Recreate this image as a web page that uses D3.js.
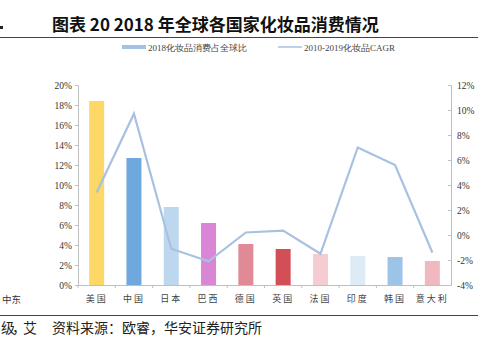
<!DOCTYPE html>
<html><head><meta charset="utf-8">
<script src="https://cdn.jsdelivr.net/npm/d3@7"></script>
<style>body{margin:0;background:#fff}svg{display:block}</style>
</head><body>
<svg id="c" width="493" height="343"></svg>
<script>
const categories = ["美国","中国","日本","巴西","德国","英国","法国","印度","韩国","意大利"];
const share2018 = [18.4, 12.7, 7.8, 6.2, 4.1, 3.6, 3.1, 2.9, 2.8, 2.4];
const cagr = [3.4, 9.7, -1.1, -2.1, 0.2, 0.35, -1.5, 7.0, 5.6, -1.4];
const barColors = ["#FDD867","#6FA8DC","#BDD7EE","#DA86D6","#DF8A94","#D34F58","#F4CCD2","#DDEBF7","#9DC3E6","#F0B8BF"];
const leftTicks = [0,2,4,6,8,10,12,14,16,18,20];
const rightTicks = [-4,-2,0,2,4,6,8,10,12];
const seriesNames = ["2018化妆品消费占全球比","2010-2019化妆品CAGR"];

const svg = d3.select("#c");
const L = 78, R = 451, T = 85, B = 285;
const x = d3.scaleBand().domain(categories).range([L, R]);
const yL = d3.scaleLinear().domain([0, 20]).range([B, T]);
const yR = d3.scaleLinear().domain([-4, 12]).range([B, T]);
const axisColor = "#BFBFBF";
const serif = "'Liberation Serif','DejaVu Serif',serif";
const cjk = "'Noto Sans CJK SC',sans-serif";

// title
svg.append("text").attr("x", 52).attr("y", 31).attr("font-family", cjk).attr("font-weight", "bold")
  .attr("font-size", 17).attr("fill", "#111").text("图表 20 2018 年全球各国家化妆品消费情况");
svg.append("rect").attr("x", 0).attr("y", 26).attr("width", 3).attr("height", 3).attr("fill", "#222");
svg.append("line").attr("x1", 0).attr("x2", 478).attr("y1", 37.5).attr("y2", 37.5).attr("stroke", "#444").attr("stroke-width", 1.2);

// legend
svg.append("rect").attr("x", 122).attr("y", 45).attr("width", 24).attr("height", 4).attr("fill", "#9DC3E6");
svg.append("text").attr("x", 148).attr("y", 50.5).attr("font-family", serif).attr("font-size", 9).attr("fill", "#444").text(seriesNames[0]);
svg.append("line").attr("x1", 278).attr("x2", 302).attr("y1", 47).attr("y2", 47).attr("stroke", "#A9C1E1").attr("stroke-width", 1.5);
svg.append("text").attr("x", 304).attr("y", 50.5).attr("font-family", serif).attr("font-size", 9).attr("fill", "#444").text(seriesNames[1]);

// left axis
const gl = svg.append("g").attr("transform", `translate(${L},0)`)
  .call(d3.axisLeft(yL).tickValues(leftTicks).tickFormat(d => d + "%").tickSize(3).tickPadding(3));
gl.select(".domain").attr("stroke", axisColor);
gl.selectAll(".tick line").attr("stroke", axisColor);
gl.selectAll("text").attr("font-family", serif).attr("font-size", 9.5).attr("fill", "#333");

// right axis
const gr = svg.append("g").attr("transform", `translate(${R},0)`)
  .call(d3.axisRight(yR).tickValues(rightTicks).tickFormat(d => d + "%").tickSize(-3).tickPadding(6));
gr.select(".domain").attr("stroke", axisColor);
gr.selectAll(".tick line").attr("stroke", axisColor);
gr.selectAll("text").attr("font-family", serif).attr("font-size", 9.5).attr("fill", "#333");

// bottom axis
svg.append("line").attr("x1", L).attr("x2", R).attr("y1", B + 0.5).attr("y2", B + 0.5).attr("stroke", axisColor);
svg.selectAll(".btick").data(categories).enter().append("line")
  .attr("x1", d => x(d)).attr("x2", d => x(d)).attr("y1", B).attr("y2", B + 3).attr("stroke", axisColor);
svg.selectAll(".clab").data(categories).enter().append("text")
  .attr("x", d => x(d) + x.bandwidth() / 2).attr("y", 302).attr("text-anchor", "middle")
  .attr("font-family", cjk).attr("font-size", 9).attr("fill", "#444").attr("letter-spacing", 2).text(d => d);

// bars
const bw = 15;
svg.selectAll(".bar").data(categories).enter().append("rect")
  .attr("x", d => x(d) + x.bandwidth() / 2 - bw / 2).attr("width", bw)
  .attr("y", (d, i) => yL(share2018[i])).attr("height", (d, i) => B - yL(share2018[i]))
  .attr("fill", (d, i) => barColors[i]);

// line
const line = d3.line().x((d, i) => x(categories[i]) + x.bandwidth() / 2).y(d => yR(d));
svg.append("path").attr("d", line(cagr)).attr("fill", "none").attr("stroke", "#A9C1E1").attr("stroke-width", 2.2).attr("stroke-linejoin", "miter");

// footer
svg.append("text").attr("x", 2).attr("y", 303).attr("font-family", cjk).attr("font-size", 9.5).attr("fill", "#333").text("中东");
svg.append("line").attr("x1", 0).attr("x2", 478).attr("y1", 315.5).attr("y2", 315.5).attr("stroke", "#444").attr("stroke-width", 1.2);
svg.append("text").attr("x", 1).attr("y", 333).attr("font-family", cjk).attr("font-size", 14).attr("letter-spacing", -3).attr("fill", "#222").text("级，艾");
svg.append("text").attr("x", 52).attr("y", 333).attr("font-family", cjk).attr("font-size", 14).attr("fill", "#222").text("资料来源：欧睿，华安证券研究所");
</script>
</body></html>
